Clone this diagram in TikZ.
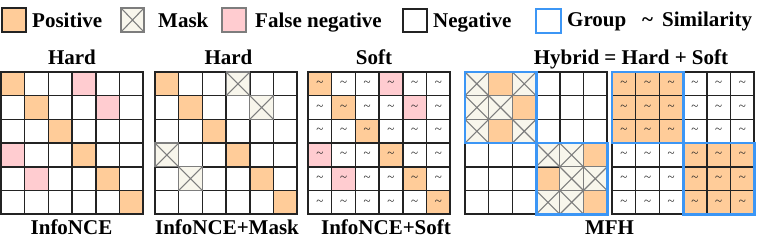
\documentclass[tikz,border=0pt]{standalone}
\usepackage{fontspec}
\setmainfont{Liberation Serif}
\usetikzlibrary{positioning}

\definecolor{poscol}{RGB}{255,204,153}
\definecolor{fnegcol}{RGB}{255,204,208}
\definecolor{maskcol}{RGB}{248,246,236}
\definecolor{crosscol}{RGB}{125,125,125}
\definecolor{groupcol}{RGB}{60,150,245}
\definecolor{linecol}{RGB}{35,35,35}

\newcommand{\cellsz}{23.7}
% one coloured cell at (row,col)
\newcommand{\cellfill}[3]{\fill[#1] (#3*\cellsz,#2*\cellsz) rectangle ++(\cellsz,\cellsz);}
% one masked cell at (row,col)
\newcommand{\maskcell}[2]{%
  \filldraw[maskbox] (#2*\cellsz,#1*\cellsz) rectangle ++(\cellsz,\cellsz);
  \draw[maskx] (#2*\cellsz,#1*\cellsz) -- ++(\cellsz,\cellsz)
    (#2*\cellsz+\cellsz,#1*\cellsz) -- ++(-\cellsz,\cellsz);}
% 6x6 lines
\newcommand{\gridlines}{%
  \foreach \k in {0,...,6} {
    \draw[gridline] (\k*\cellsz,0) -- (\k*\cellsz,6*\cellsz);
    \draw[gridline] (0,\k*\cellsz) -- (6*\cellsz,\k*\cellsz);
  }}

\tikzset{
  gridline/.style={line width=1.5pt,draw=linecol,line cap=rect},
  maskbox/.style={fill=maskcol,draw=crosscol,line width=1.2pt},
  maskx/.style={draw=crosscol,line width=1.1pt},
  groupbox/.style={draw=groupcol,line width=2.8pt},
  legbox/.style={line width=1.3pt,draw=linecol},
  legtxt/.style={font=\fontsize{21}{25}\selectfont\bfseries,inner sep=0pt,anchor=base west},
  titletxt/.style={font=\fontsize{21}{25}\selectfont\bfseries,inner sep=0pt,anchor=base},
  simtxt/.style={font=\fontsize{13}{15}\selectfont,text=linecol,inner sep=0pt}
}

\begin{document}
\begin{tikzpicture}[x=1pt,y=-1pt]
  \useasboundingbox (0,0) rectangle (764,243);

  % Legend
  \filldraw[legbox,fill=poscol] (2,8) rectangle (26,32);
  \node[legtxt] (lpos) at (32,28) {Positive};
  \filldraw[legbox,fill=maskcol,draw=crosscol] (121,8) rectangle (144,32);
  \draw[maskx] (121,8) -- (144,32) (144,8) -- (121,32);
  \node[legtxt] (lmask) at (158,28) {Mask};
  \filldraw[legbox,fill=fnegcol,draw=crosscol] (222,8) rectangle (246,32);
  \node[legtxt] (lfneg) at (255,28) {False negative};
  \draw[legbox] (403,9) rectangle (427,32);
  \node[legtxt] (lneg) at (433,28) {Negative};
  \draw[groupbox] (536,9) rectangle (561,33);
  \node[legtxt] (lgroup) at (567,27) {Group};
  \node[legtxt] (ltilde) at (642,27) {\textasciitilde};
  \node[legtxt] (lsim) at (662,27) {Similarity};

  % Titles
  \node[titletxt] (thard1) at (72,65) {Hard};
  \node[titletxt] (thard2) at (228.5,65) {Hard};
  \node[titletxt] (tsoft) at (374,65) {Soft};
  \node[titletxt] (thybrid) at (631,65) {Hybrid = Hard + Soft};

  % Captions
  \node[titletxt] (cinfo) at (71.5,235) {InfoNCE};
  \node[titletxt] (cmask) at (227,235) {InfoNCE+Mask};
  \node[titletxt] (csoft) at (386,235) {InfoNCE+Soft};
  \node[titletxt] (cmfh) at (609.5,235) {MFH};

  % InfoNCE
  \begin{scope}[shift={(1,72)}]
    \foreach \k in {0,...,5} {\cellfill{poscol}{\k}{\k}}
    \foreach \row/\col in {0/3,1/4,3/0,4/1} {\cellfill{fnegcol}{\row}{\col}}
    \gridlines
  \end{scope}

  % InfoNCE+Mask
  \begin{scope}[shift={(155,72)}]
    \foreach \k in {0,...,5} {\cellfill{poscol}{\k}{\k}}
    \gridlines
    \foreach \row/\col in {0/3,1/4,3/0,4/1} {\maskcell{\row}{\col}}
  \end{scope}

  % InfoNCE+Soft
  \begin{scope}[shift={(308,72)}]
    \foreach \k in {0,...,5} {\cellfill{poscol}{\k}{\k}}
    \foreach \row/\col in {0/3,1/4,3/0,4/1} {\cellfill{fnegcol}{\row}{\col}}
    \gridlines
    \foreach \row in {0,...,5} {
      \foreach \col in {0,...,5} {
        \node[simtxt] (s-\row-\col) at ({(\col+0.5)*\cellsz},{(\row+0.5)*\cellsz}) {\textasciitilde};
      }
    }
  \end{scope}

  % MFH, hard part
  \begin{scope}[shift={(465,72)}]
    \foreach \row/\col in {0/1,1/2,2/1,3/5,4/3,5/5} {\cellfill{poscol}{\row}{\col}}
    \gridlines
    \foreach \row/\col in {0/0,0/2,1/0,1/1,2/0,2/2,3/3,3/4,4/4,4/5,5/3,5/4} {\maskcell{\row}{\col}}
    \draw[groupbox] (0,0) rectangle (3*\cellsz,3*\cellsz);
    \draw[groupbox] (3*\cellsz,3*\cellsz) rectangle (6*\cellsz,6*\cellsz);
  \end{scope}

  % MFH, soft part
  \begin{scope}[shift={(612,72)}]
    \fill[poscol] (0,0) rectangle (3*\cellsz,3*\cellsz);
    \fill[poscol] (3*\cellsz,3*\cellsz) rectangle (6*\cellsz,6*\cellsz);
    \gridlines
    \foreach \row in {0,...,5} {
      \foreach \col in {0,...,5} {
        \node[simtxt] (h-\row-\col) at ({(\col+0.5)*\cellsz},{(\row+0.5)*\cellsz}) {\textasciitilde};
      }
    }
    \draw[groupbox] (0,0) rectangle (3*\cellsz,3*\cellsz);
    \draw[groupbox] (3*\cellsz,3*\cellsz) rectangle (6*\cellsz,6*\cellsz);
  \end{scope}
\end{tikzpicture}
\end{document}
